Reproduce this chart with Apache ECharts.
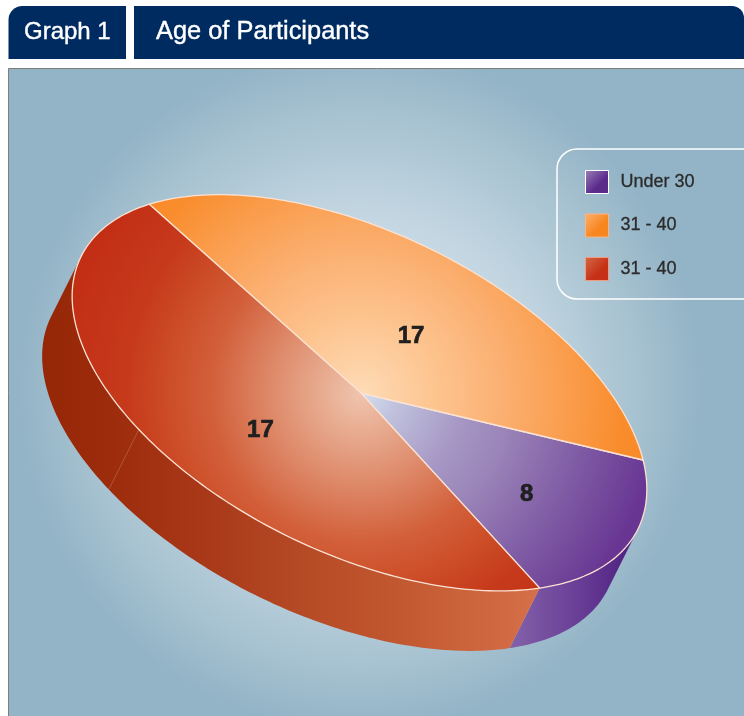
<!DOCTYPE html>
<html>
<head>
<meta charset="utf-8">
<style>html,body{margin:0;padding:0;background:#fff}#chart{width:744px;height:716px}</style>
<script src="https://cdn.jsdelivr.net/npm/echarts@6/dist/echarts.min.js"></script>
</head>
<body>
<div id="chart"></div>
<script>
// --- data ---
const graphTag = 'Graph 1';
const chartTitle = 'Age of Participants';
const categories = ['Under 30', '31 - 40', '31 - 40 '];   // the trailing space keeps the repeated legend name distinct
const values = [8, 17, 17];
// The source drawing's slices are not proportional to the printed numbers: shares of the circle as drawn (%)
const drawnShares = [16.8, 35.47, 47.73];

// --- look ---
const RAD = Math.PI / 180;
const C = {x: 359.5, y: 392.8}, A = 310, B = 160.4, TILT = 26 * RAD;
const APEX = {x: 361, y: 393};
const DROP = {x: -30, y: 60};
const START = 37;      // degrees in the disc's own plane; slices run counter-clockwise from here
const SEAM = 126;
const U = {x: Math.cos(TILT), y: Math.sin(TILT)}, V = {x: -Math.sin(TILT), y: Math.cos(TILT)};
const rim = (deg) => {
  const c = A * Math.cos(deg * RAD), s = B * Math.sin(deg * RAD);
  return [C.x + c * U.x + s * V.x, C.y + c * U.y + s * V.y];
};
const radial = (stops) => ({type: 'radial', x: APEX.x, y: APEX.y, r: 300, global: true,
  colorStops: stops.map((c) => ({offset: c[0], color: c[1]}))});
const linear = (x, x2, stops) => ({type: 'linear', x: x, y: 0, x2: x2, y2: 0, global: true,
  colorStops: stops.map((c) => ({offset: c[0], color: c[1]}))});
const swatch = (a, b) => ({type: 'linear', x: 0, y: 0, x2: 1, y2: 1,
  colorStops: [{offset: 0, color: a}, {offset: .6, color: b}, {offset: 1, color: b}]});

const looks = [
  {top: radial([[0, '#d4dfee'], [.13, '#bfc0dc'], [.35, '#a596c4'], [.5, '#9a84b8'], [.65, '#8a6bac'], [.95, '#6c3d96'], [1, '#683592']]),
   wall: linear(511, 635, [[0, '#8361a9'], [.5, '#6b4198'], [1, '#4d1f80']]),
   key: swatch('#9a82b6', '#5b2b8c'), keyEdge: '#ffffff', nudge: 2.65, f: .635},
  {top: radial([[0, '#fedbb6'], [.25, '#fdc48f'], [.47, '#fbb072'], [.67, '#fa9f50'], [.88, '#f98c2c'], [1, '#f98a27']]),
   wall: linear(0, 700, [[0, '#c06a20'], [1, '#c06a20']]),
   key: swatch('#fdb16e', '#f8861f'), keyEdge: '#fbb485', nudge: 5.65, f: .469},
  {top: radial([[0, '#f0c4af'], [.11, '#e9b095'], [.3, '#de8a6a'], [.5, '#d25f3a'], [.62, '#cd5029'], [.78, '#c63a1b'], [1, '#c32f15']]),
   wall: linear(43, 540, [[0, '#952606'], [.135, '#9c2c0c'], [.32, '#a83818'], [.52, '#b54a26'], [.72, '#c2582f'], [1, '#d6704a']]),
   key: swatch('#d26a48', '#c63116'), keyEdge: '#ef9c80', nudge: -6.4, f: .529}
];

// slice ranges from the shares
const ranges = [];
{
  let end = START;
  drawnShares.forEach((s) => { const sweep = s * 3.6; ranges.push([end - sweep, end]); end -= sweep; });
}
const phi = Math.atan2((DROP.x * V.x + DROP.y * V.y) / B, (DROP.x * U.x + DROP.y * U.y) / A) / RAD;

function arc(t1, t2) {
  const pts = [];
  for (let t = t1; t < t2; t += 1) pts.push(rim(t));
  pts.push(rim(t2));
  return pts;
}

function renderSlice(i) {
  return function () {
    const [a0, a1] = ranges[i], look = looks[i], children = [];
    for (const k of [-1, 0, 1]) {
      const t1 = Math.max(a0 + 360 * k, phi - 90), t2 = Math.min(a1 + 360 * k, phi + 90);
      if (t2 <= t1) continue;
      const pts = arc(t1, t2);
      const back = pts.map((p) => [p[0] + DROP.x, p[1] + DROP.y]).reverse();
      children.push({type: 'polygon', shape: {points: pts.concat(back)}, style: {fill: look.wall}});
      if (SEAM > t1 && SEAM < t2) {
        const p = rim(SEAM);
        children.push({type: 'line',
          shape: {x1: p[0], y1: p[1], x2: p[0] + DROP.x, y2: p[1] + DROP.y},
          style: {stroke: 'rgba(210,150,130,.55)', lineWidth: .7}});
      }
    }
    children.push({type: 'polygon', shape: {points: [[APEX.x, APEX.y]].concat(arc(a0, a1))},
      style: {fill: look.top, stroke: '#fbe2d3', lineWidth: 1.3, lineJoin: 'round'}});
    const mid = (a0 + a1) / 2 + look.nudge;
    const c = A * look.f * Math.cos(mid * RAD), s = B * look.f * Math.sin(mid * RAD);
    children.push({type: 'text', z2: 10,
      x: C.x + c * U.x + s * V.x, y: C.y + c * U.y + s * V.y + 1.5,
      style: {text: String(values[i]), fill: '#1f1f1f', stroke: '#1f1f1f', lineWidth: .7,
        align: 'center', verticalAlign: 'middle', font: 'bold 24px "Liberation Sans"'}});
    return {type: 'group', children};
  };
}

const chart = echarts.init(document.getElementById('chart'), null, {renderer: 'canvas'});
chart.setOption({
  animation: false,
  backgroundColor: '#ffffff',
  legend: {
    orient: 'vertical', left: 557, top: 149, padding: [21, 90, 18, 28],
    itemWidth: 23, itemHeight: 23, itemGap: 19.5, selectedMode: false,
    borderColor: '#ffffff', borderWidth: 1.5, borderRadius: 20, backgroundColor: 'transparent',
    formatter: (n) => n.trim(),
    textStyle: {color: '#2b2b2b', fontFamily: 'Liberation Sans', fontSize: 18, padding: [0, 0, 0, 7],
      textBorderColor: '#2b2b2b', textBorderWidth: .3},
    data: categories.map((name, i) => ({name, icon: 'rect',
      itemStyle: {color: looks[i].key, borderColor: looks[i].keyEdge, borderWidth: 1}}))
  },
  graphic: {elements: [
    {type: 'rect', z: 0, shape: {x: 8.5, y: 68.5, width: 740, height: 652},
     style: {stroke: '#7d7d7d', lineWidth: 1, fill: {type: 'radial', x: 360, y: 390, r: 340, global: true,
       colorStops: [{offset: 0, color: '#e6eef3'}, {offset: .55, color: '#c0d4e0'},
                    {offset: .85, color: '#a3bfce'}, {offset: 1, color: '#93b4c7'}]}}},
    {type: 'rect', z: 0, shape: {x: 8.5, y: 6, width: 117.5, height: 53, r: [14, 0, 0, 0]}, style: {fill: '#002b60'}},
    {type: 'rect', z: 0, shape: {x: 134, y: 6, width: 610, height: 53, r: [0, 12, 0, 0]}, style: {fill: '#002b60'}},
    {type: 'text', z: 1, x: 24, y: 32, style: {text: graphTag, fill: '#ffffff', stroke: '#ffffff', lineWidth: .4,
      verticalAlign: 'middle', font: '24px "Liberation Sans"'}},
    {type: 'text', z: 1, x: 156, y: 32, style: {text: chartTitle, fill: '#ffffff', stroke: '#ffffff', lineWidth: .4,
      verticalAlign: 'middle', font: '25.4px "Liberation Sans"'}}
  ]},
  series: categories.map((name, i) => ({
    type: 'custom', name, coordinateSystem: 'none', silent: true, z: 2,
    data: [values[i]], renderItem: renderSlice(i),
    itemStyle: {color: '#888'}
  }))
});
</script>
</body>
</html>
